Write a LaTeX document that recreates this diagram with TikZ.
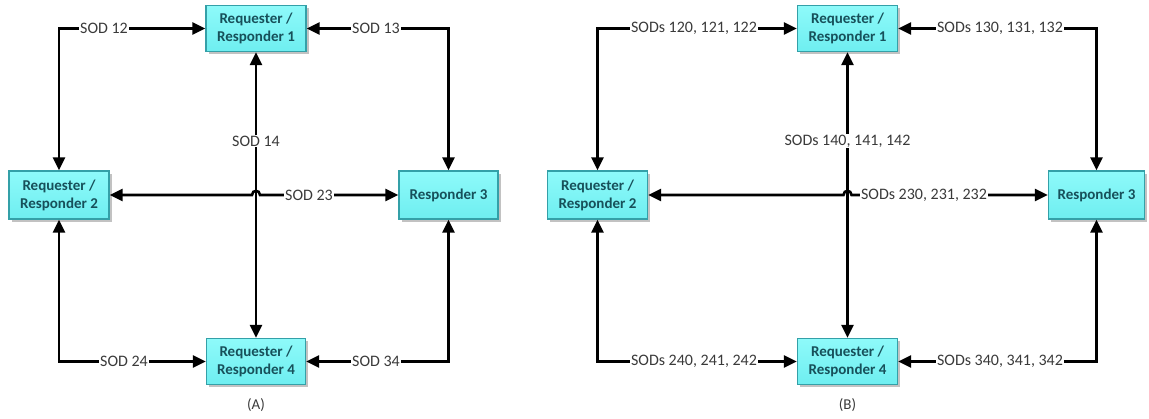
\documentclass[tikz,border=0pt]{standalone}
\usepackage{fontspec}
\setmainfont{Carlito}
\usetikzlibrary{arrows.meta,shadows}
\definecolor{boxtext}{HTML}{17505A}
\definecolor{boxfill}{HTML}{6EEEF0}
\definecolor{boxtop}{HTML}{8EFAFA}
\definecolor{boxedge}{HTML}{34A0A8}
\definecolor{labtext}{HTML}{3A3A3A}
\tikzset{
  unit/.style={draw=boxedge, line width=1.2pt, top color=boxtop, bottom color=boxfill,
    minimum height=46pt, inner sep=0pt, align=center, text=boxtext,
    font=\fontsize{15}{18}\selectfont\bfseries,
    drop shadow={shadow xshift=2.5pt, shadow yshift=-3pt, opacity=0.4, fill=black!60}},
  conn/.style={line width=2.6pt, draw=black, {Triangle[length=13pt,width=12pt]}-{Triangle[length=13pt,width=12pt]}},
  lab/.style={fill=white, inner sep=1pt, text=labtext, font=\fontsize{16}{18}\selectfont},
  captext/.style={text=labtext, font=\fontsize{15}{17}\selectfont},
}
\begin{document}
\begin{tikzpicture}[x=1pt,y=-1pt]
\useasboundingbox (0,0) rectangle (1149,419);
% ---------- Panel A ----------
\node[unit, minimum width=100pt] (a1) at (256,28.5) {Requester /\\Responder 1};
\node[unit, minimum width=100pt, minimum height=48pt] (a2) at (59,195) {Requester /\\Responder 2};
\node[unit, minimum width=99pt, minimum height=48pt] (a3) at (448.5,195) {Responder 3};
\node[unit, minimum width=99pt] (a4) at (256,361.5) {Requester /\\Responder 4};
\draw[conn] (a2.north) |- (a1.west);
\draw[conn] (a1.east) -| (a3.north);
\draw[conn] (a1.south) -- (a4.north);
\draw[conn] (a2.east) -- (252,195) .. controls (252,189.5) and (260,189.5) .. (260,195) -- (a3.west);
\draw[conn] (a2.south) |- (a4.west);
\draw[conn] (a4.east) -| (a3.south);
\node[lab] (la12) at (104,28.5) {SOD 12};
\node[lab] (la13) at (376,28.5) {SOD 13};
\node[lab] (la14) at (256,141) {SOD 14};
\node[lab] (la23) at (309,195) {SOD 23};
\node[lab] (la24) at (124,361.5) {SOD 24};
\node[lab] (la34) at (376,361.5) {SOD 34};
\node[captext] (capA) at (256,405) {(A)};
% ---------- Panel B ----------
\node[unit, minimum width=100pt] (b1) at (847.5,28.5) {Requester /\\Responder 1};
\node[unit, minimum width=100pt, minimum height=48pt] (b2) at (597.5,195) {Requester /\\Responder 2};
\node[unit, minimum width=96pt, minimum height=48pt] (b3) at (1096.5,195) {Responder 3};
\node[unit, minimum width=100pt] (b4) at (847.5,361.5) {Requester /\\Responder 4};
\draw[conn] (b2.north) |- (b1.west);
\draw[conn] (b1.east) -| (b3.north);
\draw[conn] (b1.south) -- (b4.north);
\draw[conn] (b2.east) -- (843.5,195) .. controls (843.5,189.5) and (851.5,189.5) .. (851.5,195) -- (b3.west);
\draw[conn] (b2.south) |- (b4.west);
\draw[conn] (b4.east) -| (b3.south);
\node[lab] (lb12) at (694,28.5) {SODs 120, 121, 122};
\node[lab] (lb13) at (1000,28.5) {SODs 130, 131, 132};
\node[lab] (lb14) at (847.5,141) {SODs 140, 141, 142};
\node[lab] (lb23) at (924,195) {SODs 230, 231, 232};
\node[lab] (lb24) at (694,361.5) {SODs 240, 241, 242};
\node[lab] (lb34) at (1000,361.5) {SODs 340, 341, 342};
\node[captext] (capB) at (847.5,405) {(B)};
\end{tikzpicture}
\end{document}
